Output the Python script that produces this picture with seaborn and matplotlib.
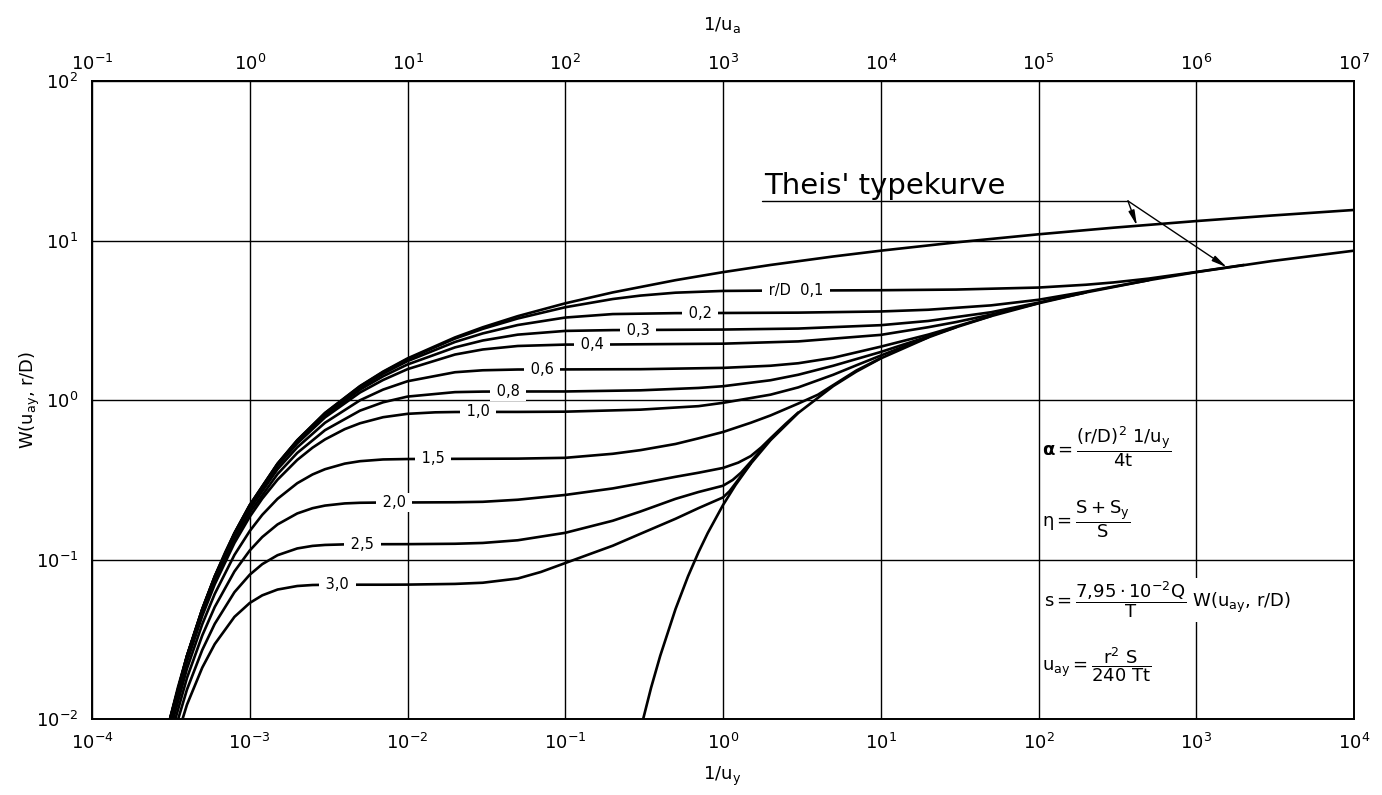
import matplotlib
matplotlib.use("Agg")
import matplotlib.pyplot as plt
from matplotlib.ticker import NullLocator
import pandas as pd
import seaborn as sns

# ------------------------------------------------------------------ data
# bottom axis 1/u_y ; top axis 1/u_a = 1000 * (1/u_y)
X_EARLY_SMALL = [3e-4, 4e-4, 5e-4, 6e-4, 8e-4, 1e-3, 1.5e-3, 2e-3, 3e-3, 5e-3,
                 7e-3, 1e-2, 2e-2, 3e-2, 5e-2]
X_EARLY_LARGE = [3e-4, 4e-4, 5e-4, 6e-4, 8e-4, 1e-3, 1.2e-3, 1.5e-3, 2e-3,
                 2.5e-3, 3e-3, 4e-3, 5e-3, 7e-3]

THEIS_A_X = [3e-4, 3.5e-4, 4e-4, 5e-4, 6e-4, 7e-4, 8e-4, 1e-3, 1.5e-3, 2e-3,
             3e-3, 5e-3, 7e-3, 1e-2, 2e-2, 3e-2, 5e-2, 0.1, 0.2, 0.5, 1, 2, 5,
             10, 30, 100, 300, 1000, 3000, 1e4]
THEIS_A_W = [0.0086, 0.0157, 0.0249, 0.0489, 0.0784, 0.1113, 0.1464, 0.2194,
             0.399, 0.5598, 0.830, 1.2227, 1.5065, 1.8229, 2.4679, 2.857,
             3.3547, 4.0379, 4.7261, 5.6394, 6.3315, 7.0242, 7.9402, 8.6332,
             9.732, 10.9357, 12.035, 13.2383, 14.3375, 15.5409]

THEIS_B_X = [0.3, 0.35, 0.4, 0.5, 0.6, 0.7, 0.8, 1, 1.2, 1.5, 2, 3, 5, 7, 10,
             20, 30, 50, 100, 200, 500, 1000, 3000, 1e4]
THEIS_B_W = [0.0086, 0.0157, 0.0249, 0.0489, 0.0784, 0.1113, 0.1464, 0.2194,
             0.293, 0.399, 0.5598, 0.830, 1.2227, 1.5065, 1.8229, 2.4679,
             2.857, 3.3547, 4.0379, 4.7261, 5.6394, 6.3315, 7.429, 8.6332]

RD_NAMES = ["0,1", "0,2", "0,3", "0,4", "0,6", "0,8", "1,0", "1,5", "2,0", "2,5", "3,0"]
LARGE_RD = ["1,0", "1,5", "2,0", "2,5", "3,0"]

W_EARLY = {
    "0,1": [0.0086, 0.0249, 0.0489, 0.0784, 0.1464, 0.2193, 0.3985, 0.5582, 0.827, 1.218, 1.495, 1.805, 2.427, 2.793, 3.244],
    "0,2": [0.0086, 0.0248, 0.0487, 0.0780, 0.1456, 0.2180, 0.3956, 0.5542, 0.816, 1.195, 1.462, 1.753, 2.311, 2.615, 2.952],
    "0,3": [0.0086, 0.0248, 0.0485, 0.0776, 0.1445, 0.2162, 0.3914, 0.546, 0.800, 1.161, 1.408, 1.670, 2.137, 2.361, 2.569],
    "0,4": [0.0085, 0.0246, 0.0481, 0.0770, 0.1431, 0.2137, 0.3855, 0.534, 0.778, 1.1145, 1.335, 1.561, 1.928, 2.074, 2.181],
    "0,6": [0.0084, 0.0242, 0.0472, 0.0752, 0.1391, 0.2066, 0.368, 0.505, 0.720, 0.996, 1.162, 1.311, 1.493, 1.536, 1.553],
    "0,8": [0.00825, 0.0236, 0.0459, 0.0728, 0.1334, 0.1967, 0.3434, 0.4657, 0.6469, 0.8576, 0.9674, 1.0505, 1.1205, 1.129, 1.1306],
    "1,0": [0.00806, 0.0229, 0.0443, 0.0699, 0.127, 0.1853, 0.2408, 0.3165, 0.421, 0.5024, 0.566, 0.6565, 0.7147, 0.780],
    "1,5": [0.0073, 0.0207, 0.0393, 0.0609, 0.1069, 0.1509, 0.1905, 0.2401, 0.3008, 0.3413, 0.3682, 0.3991, 0.4134, 0.4239],
    "2,0": [0.0066, 0.0181, 0.0334, 0.0504, 0.0842, 0.1139, 0.1383, 0.1659, 0.1944, 0.2097, 0.2178, 0.2247, 0.2268, 0.2277],
    "2,5": [0.0059, 0.0153, 0.0271, 0.0395, 0.0624, 0.0803, 0.0935, 0.1064, 0.1173, 0.1217, 0.1234, 0.1244, 0.1246, 0.1247],
    "3,0": [0.0049, 0.0123, 0.021, 0.0295, 0.0437, 0.0534, 0.0596, 0.0648, 0.0682, 0.0692, 0.0694, 0.0695, 0.0695, 0.0695],
}

X_LATE = {
    "0,1": [0.1, 0.2, 0.3, 0.5, 1, 2, 5, 10, 30, 100, 200, 300, 500, 1000, 2000],
    "0,2": [0.1, 0.2, 0.5, 1, 3, 10, 20, 50, 100, 200, 500],
    "0,3": [0.1, 0.2, 1, 3, 10, 20, 50, 100, 200],
    "0,4": [0.1, 0.2, 1, 3, 10, 20, 30, 50, 100],
    "0,6": [0.1, 0.3, 1, 2, 3, 5, 10, 20, 30, 50],
    "0,8": [0.1, 0.3, 0.7, 1, 2, 3, 5, 10, 15, 20, 30],
    "1,0": [0.01, 0.015, 0.02, 0.03, 0.05, 0.1, 0.3, 0.7, 1, 2, 3, 5, 7, 10, 15, 20],
    "1,5": [0.01, 0.02, 0.05, 0.1, 0.2, 0.3, 0.5, 0.7, 1, 1.5, 2, 3, 4, 5, 7, 10],
    "2,0": [0.01, 0.02, 0.03, 0.05, 0.1, 0.2, 0.3, 0.5, 0.7, 1, 1.25, 1.5, 1.75, 2, 2.5, 3],
    "2,5": [0.01, 0.02, 0.03, 0.05, 0.1, 0.2, 0.3, 0.5, 0.7, 1, 1.15, 1.3, 1.5, 1.75, 2],
    "3,0": [0.01, 0.02, 0.03, 0.05, 0.07, 0.1, 0.15, 0.2, 0.3, 0.5, 0.7, 1, 1.1, 1.2, 1.35, 1.5],
}
W_LATE = {
    "0,1": [3.815, 4.296, 4.515, 4.708, 4.829, 4.853, 4.865, 4.878, 4.925, 5.07, 5.28, 5.46, 5.77, 6.35, 7.025],
    "0,2": [3.288, 3.457, 3.504, 3.512, 3.53, 3.59, 3.68, 3.92, 4.25, 4.78, 5.64],
    "0,3": [2.711, 2.743, 2.765, 2.805, 2.945, 3.13, 3.55, 4.08, 4.728],
    "0,4": [2.2253, 2.229, 2.255, 2.33, 2.56, 2.86, 3.08, 3.43, 4.045],
    "0,6": [1.555, 1.56, 1.59, 1.64, 1.70, 1.84, 2.16, 2.57, 2.89, 3.36],
    "0,8": [1.131, 1.15, 1.19, 1.22, 1.33, 1.44, 1.64, 2.0, 2.28, 2.5, 2.86],
    "1,0": [0.819, 0.837, 0.8409, 0.842, 0.842, 0.845, 0.87, 0.915, 0.96, 1.08, 1.2, 1.44, 1.65, 1.9, 2.22, 2.47],
    "1,5": [0.4265, 0.4276, 0.429, 0.434, 0.46, 0.485, 0.53, 0.575, 0.63, 0.72, 0.80, 0.95, 1.08, 1.24, 1.53, 1.83],
    "2,0": [0.2278, 0.2285, 0.23, 0.237, 0.254, 0.279, 0.30, 0.33, 0.35, 0.375, 0.405, 0.445, 0.505, 0.575, 0.71, 0.835],
    "2,5": [0.1248, 0.1255, 0.127, 0.132, 0.147, 0.175, 0.2, 0.24, 0.265, 0.29, 0.315, 0.35, 0.41, 0.49, 0.565],
    "3,0": [0.0696, 0.0703, 0.0715, 0.076, 0.0835, 0.095, 0.11, 0.122, 0.145, 0.18, 0.21, 0.245, 0.268, 0.30, 0.35, 0.40],
}

LABEL_TEXT = ["r/D  0,1", "0,2", "0,3", "0,4", "0,6", "0,8", "1,0", "1,5", "2,0", "2,5", "3,0"]
LABEL_X = [2.9, 0.714, 0.289, 0.148, 0.0713, 0.0434, 0.028, 0.0145, 0.0082, 0.0052, 0.0036]
PLATEAU = [4.853, 3.505, 2.745, 2.229, 1.555, 1.1306, 0.842, 0.4276, 0.2278, 0.1247, 0.0695]

BOTTOM_EXP = list(range(-4, 5))
TOP_EXP = list(range(-1, 8))
LEFT_EXP = list(range(-2, 3))

# annotation "Theis' typekurve": underline ends, knee and arrow tips (data coords)
UNDERLINE_X = [1.77, 369.0]
UNDERLINE_Y = 17.7
ARROW_TIPS = [(421.0, 12.37), (1567.0, 6.78)]

# ------------------------------------------------------------------ build table
rows = []
for xv, wv in zip(THEIS_A_X, THEIS_A_W):
    rows.append(("Theis A", xv, wv))
for xv, wv in zip(THEIS_B_X, THEIS_B_W):
    rows.append(("Theis B", xv, wv))
for name in RD_NAMES:
    xe = X_EARLY_LARGE if name in LARGE_RD else X_EARLY_SMALL
    for xv, wv in zip(xe, W_EARLY[name]):
        rows.append((name, xv, wv))
    for xv, wv in zip(X_LATE[name], W_LATE[name]):
        rows.append((name, xv, wv))
df = pd.DataFrame(rows, columns=["curve", "x", "W"])

# ------------------------------------------------------------------ figure
sns.set_style("white")
plt.rcParams["font.family"] = ["DejaVu Sans"]
plt.rcParams["mathtext.fontset"] = "dejavusans"
plt.rcParams["mathtext.default"] = "regular"
for key in ["text.color", "axes.labelcolor", "xtick.color", "ytick.color", "axes.edgecolor"]:
    plt.rcParams[key] = "black"

WPX, HPX = 1382, 795
fig = plt.figure(figsize=(WPX / 100, HPX / 100), dpi=100)
L, R, T, B = 92, 1354, 81, 719
ax = fig.add_axes([L / WPX, 1 - B / HPX, (R - L) / WPX, (B - T) / HPX])
ax.set_xscale("log")
ax.set_yscale("log")

sns.lineplot(data=df, x="x", y="W", units="curve", estimator=None, sort=False,
             color="black", lw=1.9, ax=ax, legend=False, zorder=3)

ax.set_xlim(1e-4, 1e4)
ax.set_ylim(1e-2, 1e2)
ax.set_xticks([10.0 ** k for k in BOTTOM_EXP], [f"$10^{{{k}}}$" for k in BOTTOM_EXP])
ax.set_yticks([10.0 ** k for k in LEFT_EXP], [f"$10^{{{k}}}$" for k in LEFT_EXP])
ax.xaxis.set_minor_locator(NullLocator())
ax.yaxis.set_minor_locator(NullLocator())
ax.tick_params(axis="x", length=0, pad=10, labelsize=13, colors="black")
ax.tick_params(axis="y", length=0, pad=10, labelsize=13, colors="black")
ax.grid(True, which="major", color="black", lw=1.0)
ax.set_xlabel("")
ax.set_ylabel("")
for sp in ax.spines.values():
    sp.set_linewidth(1.4)
    sp.set_color("black")

secax = ax.secondary_xaxis("top", functions=(lambda v: v * 1e3, lambda v: v / 1e3))
secax.set_xticks([10.0 ** k for k in TOP_EXP], [f"$10^{{{k}}}$" for k in TOP_EXP])
secax.xaxis.set_minor_locator(NullLocator())
secax.tick_params(axis="x", length=0, pad=5, labelsize=13, colors="black")
for sp in secax.spines.values():
    sp.set_linewidth(1.4)
    sp.set_color("black")

# curve labels
for txt, lx, ly in zip(LABEL_TEXT, LABEL_X, PLATEAU):
    ax.text(lx, ly, " " + txt + " ", ha="center", va="center", fontsize=10.5,
            color="black", zorder=5,
            bbox=dict(facecolor="white", edgecolor="none", pad=1.5))

# Theis' typekurve annotation
ax.plot(UNDERLINE_X, [UNDERLINE_Y, UNDERLINE_Y], color="black", lw=1.0, zorder=4)
for tip in ARROW_TIPS:
    ax.annotate("", xy=tip, xytext=(UNDERLINE_X[1], UNDERLINE_Y),
                arrowprops=dict(arrowstyle="-|>,head_length=0.9,head_width=0.18",
                                color="black", lw=1.0, shrinkA=0, shrinkB=0),
                zorder=4)


def fpos(px, py):
    return px / WPX, 1 - py / HPX


fig.text(*fpos(764, 194), "Theis' typekurve", fontsize=21, ha="left",
         va="baseline", color="black")

# axis titles
fig.text(*fpos(722, 776), "1/u$_y$", fontsize=13, ha="center", va="center")
fig.text(*fpos(722, 25), "1/u$_a$", fontsize=13, ha="center", va="center")
fig.text(*fpos(30, 400), "W(u$_{ay}$, r/D)", fontsize=13, ha="center", va="center",
         rotation=90)

# formulas
fig.text(*fpos(1042, 447), r"$\mathbf{\alpha}$$=\dfrac{(r/D)^2\ 1/u_y}{4t}$",
         fontsize=13, ha="left", va="center")
fig.text(*fpos(1042, 519), r"$\eta=\dfrac{S+S_y}{S}$",
         fontsize=13, ha="left", va="center")
fig.text(*fpos(1044, 600), r"$s=\dfrac{7{,}95\cdot 10^{-2}Q}{T}$ W(u$_{ay}$, r/D)",
         fontsize=13, ha="left", va="center",
         bbox=dict(facecolor="white", edgecolor="none", pad=1.0))
fig.text(*fpos(1042, 665), r"$u_{ay}=\dfrac{r^2\ S}{240\ Tt}$",
         fontsize=13, ha="left", va="center")

fig.savefig("out.png", dpi=100)
